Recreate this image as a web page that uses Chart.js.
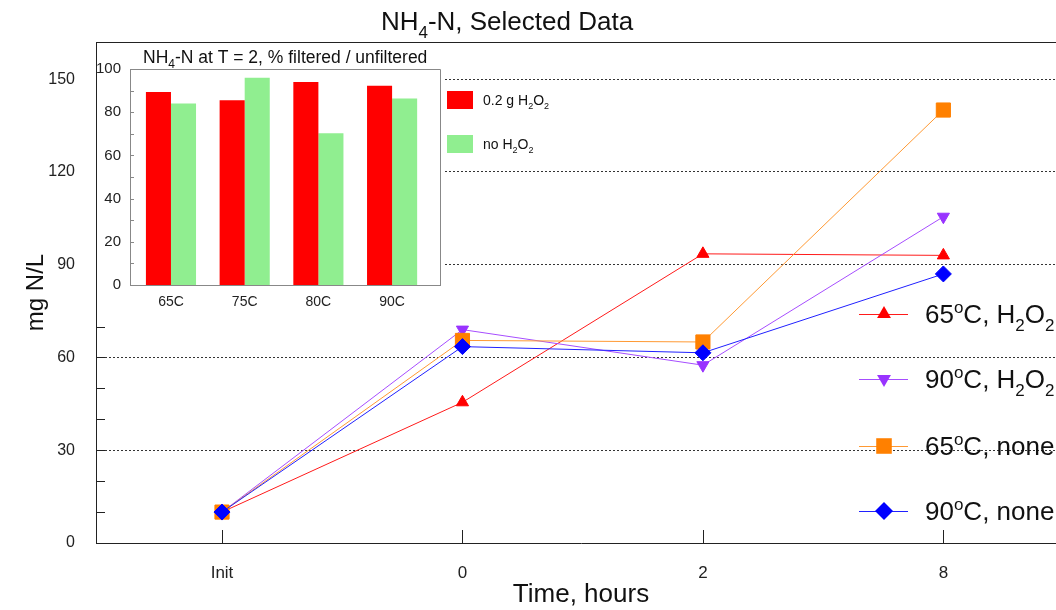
<!DOCTYPE html>
<html>
<head>
<meta charset="utf-8">
<script src="https://cdn.jsdelivr.net/npm/chart.js@4.4.1/dist/chart.umd.min.js"></script>
<style>
  html, body { margin: 0; padding: 0; background: #fff; overflow: hidden; }
  #wrap { position: relative; width: 1056px; height: 610px; overflow: hidden; }
  #main { position: absolute; left: 0; top: 0; }
  #inset { position: absolute; left: 97px; top: 44px; }
</style>
</head>
<body>
<div id="wrap">
  <canvas id="main" width="1080" height="610"></canvas>
  <canvas id="inset" width="470" height="272"></canvas>
</div>
<script>
// main chart data
const timeLabels = ['Init', '0', '2', '8'];
const h2o2At65 = [10, 45.5, 93.5, 93];
const h2o2At90 = [10, 69, 57.5, 105.5];
const noneAt65 = [10, 65.5, 65, 140];
const noneAt90 = [10, 63.5, 61.5, 87];
const mainYTicks = [0, 30, 60, 90, 120, 150];

// inset bar data (% filtered / unfiltered at T = 2)
const insetLabels = ['65C', '75C', '80C', '90C'];
const pctWithH2o2 = [89.3, 85.5, 94, 92.3];
const pctNoH2o2 = [84, 96, 70.3, 86.4];
const insetYTicks = [0, 20, 40, 60, 80, 100];

const FONT = '"Liberation Sans", Arial, Helvetica, sans-serif';

// draws text with sub/superscript pieces: parts = [[text, 'sub'|'sup'|''], ...]
function drawRich(ctx, parts, x, y, size, align) {
    const small = Math.round(size * 0.66);
    const fontFor = (p) => (p[1] ? small : size) + 'px ' + FONT;
    let total = 0;
    parts.forEach((p) => {
        ctx.font = fontFor(p);
        total += ctx.measureText(p[0]).width;
    });
    let cx = align === 'center' ? x - total / 2 : x;
    ctx.textAlign = 'left';
    ctx.textBaseline = 'alphabetic';
    parts.forEach((p) => {
        ctx.font = fontFor(p);
        let dy = 0;
        if (p[1] === 'sub') dy = size * 0.3;
        if (p[1] === 'sup') dy = -size * 0.38;
        ctx.fillText(p[0], cx, y + dy);
        cx += ctx.measureText(p[0]).width;
    });
}

function drawMarker(ctx, style, rot, r, x, y, color) {
    ctx.fillStyle = color;
    ctx.beginPath();
    if (style === 'triangle') {
        const start = rot === 180 ? Math.PI / 2 : -Math.PI / 2;
        for (let k = 0; k < 3; k++) {
            const a = start + k * 2 * Math.PI / 3;
            const px = x + r * Math.cos(a), py = y + r * Math.sin(a);
            k === 0 ? ctx.moveTo(px, py) : ctx.lineTo(px, py);
        }
    } else if (style === 'rect') {
        const s = r * Math.SQRT1_2;
        ctx.rect(x - s, y - s, 2 * s, 2 * s);
    } else {
        ctx.moveTo(x, y - r); ctx.lineTo(x + r, y); ctx.lineTo(x, y + r); ctx.lineTo(x - r, y);
    }
    ctx.closePath();
    ctx.fill();
}

const legendText = [
    [['65', ''], ['o', 'sup'], ['C, H', ''], ['2', 'sub'], ['O', ''], ['2', 'sub']],
    [['90', ''], ['o', 'sup'], ['C, H', ''], ['2', 'sub'], ['O', ''], ['2', 'sub']],
    [['65', ''], ['o', 'sup'], ['C, none', '']],
    [['90', ''], ['o', 'sup'], ['C, none', '']]
];
const legendRows = [314, 379, 446, 511];

const mainDecor = {
    id: 'mainDecor',
    afterDraw(chart) {
        const { ctx, chartArea: a, scales: { x, y } } = chart;
        ctx.save();
        ctx.strokeStyle = '#222';
        ctx.lineWidth = 1;
        ctx.beginPath();
        ctx.moveTo(a.left, a.top + 0.5);
        ctx.lineTo(a.right, a.top + 0.5);
        // inward ticks
        timeLabels.forEach((l, i) => {
            const px = Math.round(x.getPixelForValue(i)) + 0.5;
            ctx.moveTo(px, a.bottom);
            ctx.lineTo(px, a.bottom - 13);
        });
        for (let v = 10; v <= 150; v += 10) {
            const py = Math.round(y.getPixelForValue(v)) + 0.5;
            ctx.moveTo(a.left, py);
            ctx.lineTo(a.left + 9, py);
        }
        ctx.stroke();

        // title
        ctx.fillStyle = '#111';
        drawRich(ctx, [['NH', ''], ['4', 'sub'], ['-N, Selected Data', '']], 507, 30, 26, 'center');

        // legend
        chart.data.datasets.forEach((ds, i) => {
            const cy = legendRows[i];
            ctx.strokeStyle = ds.borderColor;
            ctx.beginPath();
            ctx.moveTo(859, cy + 0.5);
            ctx.lineTo(908, cy + 0.5);
            ctx.stroke();
            drawMarker(ctx, ds.pointStyle, ds.pointRotation || 0, ds.pointRadius + 1, 884, cy, ds.pointBackgroundColor);
            ctx.fillStyle = '#111';
            drawRich(ctx, legendText[i], 925, cy + 9, 26, 'left');
        });
        ctx.restore();
    }
};

const toPoints = (arr) => arr.map((v, i) => ({ x: i, y: v }));

new Chart(document.getElementById('main'), {
    type: 'line',
    data: {
        datasets: [
            { data: toPoints(h2o2At65), borderColor: '#ff1a1a', pointBackgroundColor: '#ff0000', pointBorderColor: '#ff0000', pointStyle: 'triangle', pointRadius: 7, order: 3 },
            { data: toPoints(h2o2At90), borderColor: '#a64dff', pointBackgroundColor: '#9933ff', pointBorderColor: '#9933ff', pointStyle: 'triangle', pointRotation: 180, pointRadius: 7, order: 2 },
            { data: toPoints(noneAt65), borderColor: '#ff9933', pointBackgroundColor: '#ff8000', pointBorderColor: '#ff8000', pointStyle: 'rect', pointRadius: 10, order: 1 },
            { data: toPoints(noneAt90), borderColor: '#2020ff', pointBackgroundColor: '#0000ff', pointBorderColor: '#0000ff', pointStyle: 'rectRot', pointRadius: 8, order: 0 }
        ]
    },
    options: {
        responsive: false,
        animation: false,
        events: [],
        layout: { padding: { top: 42, right: 14, left: 0, bottom: 0 } },
        elements: { line: { borderWidth: 1, tension: 0, fill: false }, point: { borderWidth: 1 } },
        plugins: { legend: { display: false }, tooltip: { enabled: false }, title: { display: false } },
        scales: {
            x: {
                type: 'linear',
                min: -0.524,
                max: 3.51,
                afterBuildTicks: (s) => { s.ticks = timeLabels.map((l, i) => ({ value: i })); },
                afterFit: (s) => { s.height = 67; },
                grid: { display: false, drawTicks: false },
                border: { display: true, color: '#222', width: 1 },
                ticks: {
                    callback: (v) => timeLabels[v],
                    color: '#222',
                    padding: 20,
                    maxRotation: 0,
                    font: { family: FONT, size: 17 }
                },
                title: { display: true, text: 'Time, hours', color: '#111', font: { family: FONT, size: 26 }, padding: { top: 0, bottom: 0 } }
            },
            y: {
                min: 0,
                max: 162,
                afterBuildTicks: (s) => { s.ticks = mainYTicks.map((v) => ({ value: v })); },
                afterFit: (s) => { s.width = 96; },
                grid: {
                    drawTicks: false,
                    color: (c) => (c.tick && c.tick.value > 0 ? '#333' : 'rgba(0,0,0,0)'),
                    lineWidth: 1
                },
                border: { display: true, color: '#222', width: 1, dash: [2, 2] },
                ticks: { color: '#222', padding: 21, font: { family: FONT, size: 16 } },
                title: { display: true, text: 'mg N/L', color: '#111', font: { family: FONT, size: 24 }, padding: { top: 22, bottom: 0 } }
            }
        }
    },
    plugins: [mainDecor]
});

// inset chart
const insetDecor = {
    id: 'insetDecor',
    beforeDraw(chart) {
        const ctx = chart.ctx;
        ctx.save();
        ctx.fillStyle = '#fff';
        ctx.fillRect(0, 0, chart.chartArea.right + 5, 262);
        ctx.restore();
    },
    afterDraw(chart) {
        const { ctx, chartArea: a, scales: { y } } = chart;
        ctx.save();
        ctx.strokeStyle = '#888';
        ctx.lineWidth = 1;
        ctx.beginPath();
        ctx.moveTo(a.left, a.top + 0.5);
        ctx.lineTo(a.right + 0.5, a.top + 0.5);
        ctx.lineTo(a.right + 0.5, a.bottom);
        for (let v = 10; v < 100; v += 10) {
            const py = Math.round(y.getPixelForValue(v)) + 0.5;
            ctx.moveTo(a.left, py);
            ctx.lineTo(a.left + 4, py);
        }
        ctx.stroke();

        ctx.fillStyle = '#111';
        drawRich(ctx, [['NH', ''], ['4', 'sub'], ['-N at T = 2, % filtered / unfiltered', '']], 46, 19, 17.5, 'left');

        // legend, outside the plot frame
        const names = [
            [['0.2 g H', ''], ['2', 'sub'], ['O', ''], ['2', 'sub']],
            [['no H', ''], ['2', 'sub'], ['O', ''], ['2', 'sub']]
        ];
        const rows = [56, 100];
        chart.data.datasets.forEach((ds, i) => {
            ctx.fillStyle = ds.backgroundColor;
            ctx.fillRect(350, rows[i] - 9, 26, 18);
            ctx.fillStyle = '#111';
            drawRich(ctx, names[i], 386, rows[i] + 5, 14, 'left');
        });
        ctx.restore();
    }
};

new Chart(document.getElementById('inset'), {
    type: 'bar',
    data: {
        datasets: [
            { data: toPoints(pctWithH2o2), backgroundColor: '#ff0000' },
            { data: toPoints(pctNoH2o2), backgroundColor: '#90ee90' }
        ]
    },
    options: {
        responsive: false,
        animation: false,
        events: [],
        layout: { padding: { top: 25, right: 127, left: 0, bottom: 0 } },
        datasets: { bar: { categoryPercentage: 0.68, barPercentage: 1.0, borderWidth: 0 } },
        plugins: { legend: { display: false }, tooltip: { enabled: false } },
        scales: {
            x: {
                type: 'linear',
                offset: false,
                min: -0.556,
                max: 3.65,
                afterBuildTicks: (s) => { s.ticks = insetLabels.map((l, i) => ({ value: i })); },
                afterFit: (s) => { s.height = 31; },
                grid: { display: false, drawTicks: false },
                border: { display: true, color: '#888' },
                ticks: { callback: (v) => insetLabels[v], color: '#222', padding: 9, maxRotation: 0, font: { family: FONT, size: 14 } }
            },
            y: {
                min: 0,
                max: 100,
                afterBuildTicks: (s) => { s.ticks = insetYTicks.map((v) => ({ value: v })); },
                afterFit: (s) => { s.width = 33; },
                grid: { display: false, drawTicks: false },
                border: { display: true, color: '#888' },
                ticks: { color: '#222', padding: 9, font: { family: FONT, size: 15 } }
            }
        }
    },
    plugins: [insetDecor]
});
</script>
</body>
</html>
